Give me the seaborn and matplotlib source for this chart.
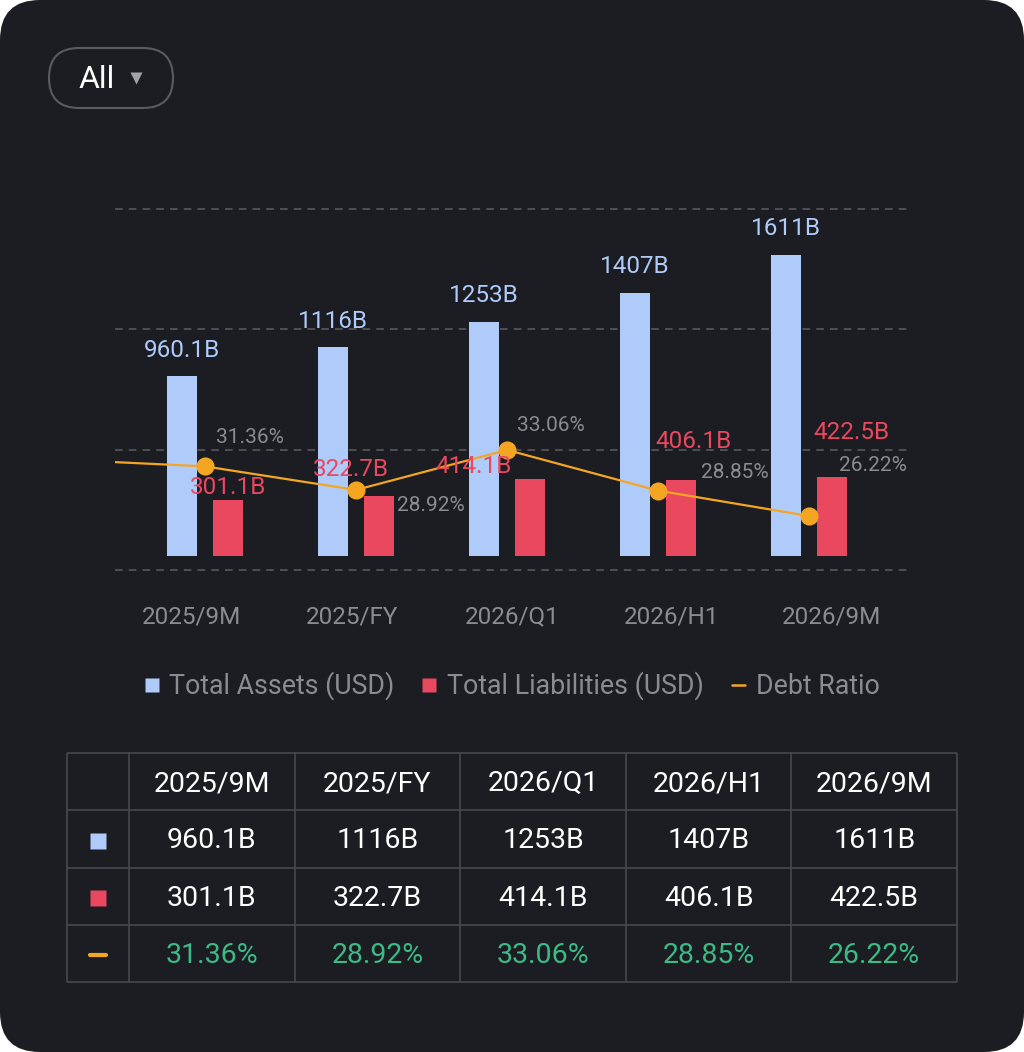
import numpy as np
import pandas as pd
import matplotlib
matplotlib.use("Agg")
import matplotlib.pyplot as plt
from matplotlib.patches import FancyBboxPatch
from matplotlib.lines import Line2D
import seaborn as sns

# ── Data ──────────────────────────────────────────────────────────────────────

periods = ["2025/9M", "2025/FY", "2026/Q1", "2026/H1", "2026/9M"]
total_assets = [960.1, 1116, 1253, 1407, 1611]          # billions USD
total_liabilities = [301.1, 322.7, 414.1, 406.1, 422.5]  # billions USD
debt_ratio = [31.36, 28.92, 33.06, 28.85, 26.22]         # percent
prev_debt_ratio = 32.1   # period before 2025/9M, only its segment shows at the left edge
series_names = ["Total Assets (USD)", "Total Liabilities (USD)", "Debt Ratio"]

# ── Style ─────────────────────────────────────────────────────────────────────

CARD = "#1c1d22"
BLUE = "#aecbfa"
RED = "#e9485f"
ORANGE = "#f4a623"
GREEN = "#3dbb87"
GRAY = "#8b8b90"
GRID = "#5c5c61"
BORDER = "#48484d"

sns.set_theme(style="white")
plt.rcParams["font.family"] = ["Roboto", "DejaVu Sans"]

# label nudges in pixels (label centre relative to the mark)
asset_label_offsets = [(0, 26)] * 5
liab_label_offsets = [(0, 12), (-28, 26), (-56, 12), (12, 39), (19, 44)]
ratio_label_offsets = [(45, 29), (75, -16), (44, 24), (77, 18), (64, 50)]

W, H = 1024, 1052
fig = plt.figure(figsize=(W / 100, H / 100), dpi=100, facecolor="white")


def px_box(left, top, right, bottom):
    return [left / W, 1 - bottom / H, (right - left) / W, (bottom - top) / H]


# ── Card background, filter pill ──────────────────────────────────────────────

bg = fig.add_axes([0, 0, 1, 1])
bg.set_xlim(0, W)
bg.set_ylim(H, 0)
bg.axis("off")
bg.add_patch(FancyBboxPatch((0, 0), W, H, boxstyle="round,pad=0,rounding_size=40",
                            fc=CARD, ec="none"))
bg.add_patch(FancyBboxPatch((49, 48), 124, 60, boxstyle="round,pad=0,rounding_size=30",
                            fc="none", ec="#5a5a5f", lw=1.5))
bg.text(97, 79, "All", color="white", fontsize=23, ha="center", va="center")
bg.plot(136, 78, marker="v", ms=9, color="#a3a3a8", mec="none")

# ── Bars ──────────────────────────────────────────────────────────────────────

ax = fig.add_axes(px_box(115, 190, 910, 590))
ax.patch.set_alpha(0)

df = pd.DataFrame({
    "period": periods * 2,
    "value": total_assets + total_liabilities,
    "series": [series_names[0]] * len(periods) + [series_names[1]] * len(periods),
})
sns.barplot(data=df, x="period", y="value", hue="series", palette=[BLUE, RED],
            width=0.61, gap=0.33, saturation=1, linewidth=0, legend=False, ax=ax)

ax.set_xlim(-0.596, 4.669)
ax.set_ylim(-182, 1957)
for g in np.linspace(-75, 1855, 4):
    ax.axhline(g, color=GRID, lw=1.1, ls=(0, (5, 4)), zorder=0)
ax.set_xlabel("")
ax.set_ylabel("")
ax.set_yticks([])
ax.tick_params(bottom=False, labelbottom=False)
for s in ax.spines.values():
    s.set_visible(False)

# period labels sit on a slightly wider spacing than the bars
sec = ax.secondary_xaxis("bottom", functions=(lambda x: (151 * x + 13) / 160,
                                              lambda s: (160 * s - 13) / 151))
sec.set_xticks(range(len(periods)))
sec.set_xticklabels(periods)
sec.tick_params(length=0, pad=11, labelsize=17.5, labelcolor=GRAY)
sec.spines["bottom"].set_visible(False)

# ── Debt ratio line ───────────────────────────────────────────────────────────

ax2 = ax.twinx()
ax2.set_ylim(18.55, 60.0)
ax2.set_axis_off()
line_x = np.arange(-1, len(periods))
line_y = [prev_debt_ratio] + debt_ratio
sns.lineplot(x=line_x, y=line_y, ax=ax2, color=ORANGE, lw=1.6)
sns.scatterplot(x=np.arange(len(periods)), y=debt_ratio, ax=ax2, color=ORANGE,
                s=170, linewidth=0, zorder=3)

# ── Value labels ──────────────────────────────────────────────────────────────

for bars, offsets, col in [(ax.containers[0], asset_label_offsets, BLUE),
                           (ax.containers[1], liab_label_offsets, RED)]:
    for bar, off in zip(bars, offsets):
        x = bar.get_x() + bar.get_width() / 2
        h = bar.get_height()
        ax2.annotate(f"{h:.4g}B", xy=(x, h), xycoords=ax.transData, xytext=off,
                     textcoords="offset pixels", ha="center", va="center",
                     color=col, fontsize=17.5, zorder=5)

for i, (r, off) in enumerate(zip(debt_ratio, ratio_label_offsets)):
    ax2.annotate(f"{r:.2f}%", xy=(i, r), xytext=off, textcoords="offset pixels",
                 ha="center", va="center", color=GRAY, fontsize=15, zorder=5)

# ── Legend ────────────────────────────────────────────────────────────────────

handles = [
    Line2D([], [], ls="none", marker="s", ms=9.5, mfc=BLUE, mec="none"),
    Line2D([], [], ls="none", marker="s", ms=9.5, mfc=RED, mec="none"),
    Line2D([], [], color=ORANGE, lw=1.8),
]
fig.legend(handles, series_names, loc="center", bbox_to_anchor=(512.5 / W, 1 - 686 / H),
           ncol=3, frameon=False, fontsize=19.3, labelcolor=GRAY,
           handlelength=0.5, handletextpad=0.4, columnspacing=1.05)

# ── Table ─────────────────────────────────────────────────────────────────────

col_edges = [67, 129] + [129 + 165.6 * k for k in range(1, len(periods) + 1)]
row_edges = np.linspace(753, 982, 5)
bg.hlines(row_edges, col_edges[0], col_edges[-1], color=BORDER, lw=1.2)
bg.vlines(col_edges, row_edges[0], row_edges[-1], color=BORDER, lw=1.2)

col_mid = [(a + b) / 2 for a, b in zip(col_edges[:-1], col_edges[1:])]
row_mid = [(a + b) / 2 + 2 for a, b in zip(row_edges[:-1], row_edges[1:])]

rows = [
    (periods, "white"),
    ([f"{v:.4g}B" for v in total_assets], "white"),
    ([f"{v:.4g}B" for v in total_liabilities], "white"),
    ([f"{v:.2f}%" for v in debt_ratio], GREEN),
]
for r, (cells, col) in enumerate(rows):
    for c, txt in enumerate(cells):
        bg.text(col_mid[c + 1], row_mid[r], txt, color=col, fontsize=20.5,
                ha="center", va="center")

bg.plot(col_mid[0], row_mid[1], marker="s", ms=11, mfc=BLUE, mec="none")
bg.plot(col_mid[0], row_mid[2], marker="s", ms=11, mfc=RED, mec="none")
bg.hlines(row_mid[3], col_mid[0] - 8, col_mid[0] + 8, color=ORANGE, lw=3,
          capstyle="round")

fig.savefig("out.png", dpi=100, facecolor="white")
